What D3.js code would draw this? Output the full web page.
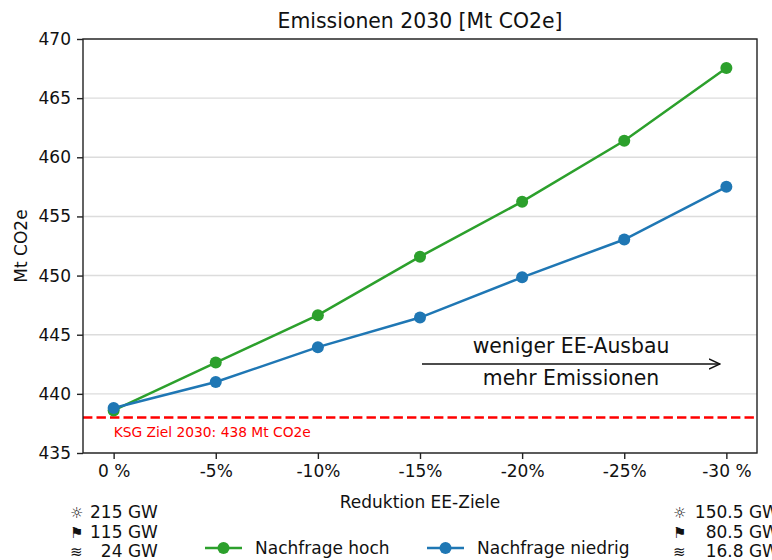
<!DOCTYPE html>
<meta charset="utf-8">
<body style="margin:0;background:#fff">
<svg width="772" height="560"></svg>
<script src="https://d3js.org/d3.v7.min.js"></script>
<style>
  svg { font-family: "DejaVu Sans", sans-serif; }
</style>
<script>

// data
var categories = ["0 %", "-5%", "-10%", "-15%", "-20%", "-25%", "-30 %"]
var nachfrageHoch = [438.6, 442.65, 446.65, 451.6, 456.25, 461.4, 467.55]
var nachfrageNiedrig = [438.8, 441.0, 443.95, 446.45, 449.85, 453.05, 457.5]
var yTicks = [435, 440, 445, 450, 455, 460, 465, 470]
var zielWert = 438
var zielLabel = "KSG Ziel 2030: 438 Mt CO2e"
var seriesNames = ["Nachfrage hoch", "Nachfrage niedrig"]
var seriesColors = ["#2ca02c", "#1f77b4"]
var leftInfo = [["\u263C", "215"], ["\u2691", "115"], ["\u224B", "24"]]
var rightInfo = [["\u263C", "150.5"], ["\u2691", "80.5"], ["\u224B", "16.8"]]

var width = 772
var height = 560
var margin = { top: 39, right: 15, bottom: 107, left: 83 }

var svg = d3.select('svg')

var x = d3.scalePoint()
  .domain(categories)
  .range([margin.left, width - margin.right])
  .padding(0.3)

var y = d3.scaleLinear()
  .domain([435, 470])
  .range([height - margin.bottom, margin.top])

// grid
svg.append('g')
  .selectAll('line')
  .data(yTicks)
  .enter().append('line')
  .attr('x1', margin.left)
  .attr('x2', width - margin.right)
  .attr('y1', function (d) { return y(d) })
  .attr('y2', function (d) { return y(d) })
  .attr('stroke', '#dcdcdc')
  .attr('stroke-width', 1.4)

// axes
var xAxis = svg.append('g')
  .attr('transform', 'translate(0,' + (height - margin.bottom) + ')')
  .call(d3.axisBottom(x).tickSize(6).tickPadding(6))
var yAxis = svg.append('g')
  .attr('transform', 'translate(' + margin.left + ',0)')
  .call(d3.axisLeft(y).tickValues(yTicks).tickSize(6).tickPadding(6))

;[xAxis, yAxis].forEach(function (ax) {
  ax.select('.domain').remove()
  ax.selectAll('line').attr('stroke', '#222').attr('stroke-width', 1.4)
  ax.selectAll('text').attr('font-size', 17).attr('fill', '#111')
    .attr('font-family', '"DejaVu Sans", sans-serif')
})
xAxis.selectAll('text').attr('dy', '0.71em')

// target line
svg.append('line')
  .attr('x1', margin.left)
  .attr('x2', width - margin.right)
  .attr('y1', y(zielWert))
  .attr('y2', y(zielWert))
  .attr('stroke', 'red')
  .attr('stroke-width', 2.5)
  .attr('stroke-dasharray', '9.4,4.1')

svg.append('text')
  .attr('x', x(categories[0]))
  .attr('y', y(zielWert) + 19)
  .attr('font-size', 13.8)
  .attr('fill', 'red')
  .text(zielLabel)

// series
var line = d3.line()
  .x(function (d, i) { return x(categories[i]) })
  .y(function (d) { return y(d) })

;[nachfrageHoch, nachfrageNiedrig].forEach(function (values, s) {
  var g = svg.append('g')
  g.append('path')
    .datum(values)
    .attr('d', line)
    .attr('fill', 'none')
    .attr('stroke', seriesColors[s])
    .attr('stroke-width', 2.5)
  g.selectAll('circle')
    .data(values)
    .enter().append('circle')
    .attr('cx', function (d, i) { return x(categories[i]) })
    .attr('cy', function (d) { return y(d) })
    .attr('r', 6)
    .attr('fill', seriesColors[s])
})

// frame
svg.append('rect')
  .attr('x', margin.left)
  .attr('y', margin.top)
  .attr('width', width - margin.left - margin.right)
  .attr('height', height - margin.top - margin.bottom)
  .attr('fill', 'none')
  .attr('stroke', '#222')
  .attr('stroke-width', 1.4)

// arrow annotation
svg.append('defs').append('marker')
  .attr('id', 'head')
  .attr('viewBox', '0 0 12 12')
  .attr('refX', 11).attr('refY', 6)
  .attr('markerWidth', 12).attr('markerHeight', 12)
  .attr('markerUnits', 'userSpaceOnUse')
  .attr('orient', 'auto')
  .append('path')
  .attr('d', 'M0,1 L11,6 L0,11')
  .attr('fill', 'none')
  .attr('stroke', '#111')
  .attr('stroke-width', 1.5)

var arrowY = 364
svg.append('line')
  .attr('x1', 422).attr('x2', 720)
  .attr('y1', arrowY).attr('y2', arrowY)
  .attr('stroke', '#111')
  .attr('stroke-width', 1.5)
  .attr('marker-end', 'url(#head)')
svg.append('text')
  .attr('x', 571).attr('y', arrowY - 11)
  .attr('text-anchor', 'middle').attr('font-size', 20.4).attr('fill', '#111')
  .text('weniger EE-Ausbau')
svg.append('text')
  .attr('x', 571).attr('y', arrowY + 21)
  .attr('text-anchor', 'middle').attr('font-size', 20.4).attr('fill', '#111')
  .text('mehr Emissionen')

// titles
svg.append('text')
  .attr('x', (margin.left + width - margin.right) / 2)
  .attr('y', 28)
  .attr('text-anchor', 'middle')
  .attr('font-size', 20.4)
  .attr('fill', '#111')
  .text('Emissionen 2030 [Mt CO2e]')

svg.append('text')
  .attr('x', (margin.left + width - margin.right) / 2)
  .attr('y', 508)
  .attr('text-anchor', 'middle')
  .attr('font-size', 17)
  .attr('fill', '#111')
  .text('Reduktion EE-Ziele')

svg.append('text')
  .attr('transform', 'translate(27,' + (margin.top + height - margin.bottom) / 2 + ') rotate(-90)')
  .attr('text-anchor', 'middle')
  .attr('font-size', 17)
  .attr('fill', '#111')
  .text('Mt CO2e')

// capacity notes under the first and last category
function info(rows, symX, numEnd) {
  rows.forEach(function (r, i) {
    var yy = 518 + i * 19.5
    svg.append('text').attr('x', symX).attr('y', yy)
      .attr('font-size', 15).attr('fill', '#111').text(r[0])
    svg.append('text').attr('x', numEnd).attr('y', yy)
      .attr('text-anchor', 'end').attr('font-size', 17).attr('fill', '#111').text(r[1])
    svg.append('text').attr('x', numEnd + 5.4).attr('y', yy)
      .attr('font-size', 17).attr('fill', '#111').text('GW')
  })
}
info(leftInfo, 70, 122.5)
info(rightInfo, 673, 743.5)

// legend
var legend = svg.append('g')
var legendX = [205, 427]
seriesNames.forEach(function (name, s) {
  var lx = legendX[s], ly = 548
  legend.append('line')
    .attr('x1', lx).attr('x2', lx + 37)
    .attr('y1', ly).attr('y2', ly)
    .attr('stroke', seriesColors[s]).attr('stroke-width', 2.5)
  legend.append('circle')
    .attr('cx', lx + 18.5).attr('cy', ly).attr('r', 6)
    .attr('fill', seriesColors[s])
  legend.append('text')
    .attr('x', lx + 50).attr('y', ly + 6)
    .attr('font-size', 17).attr('fill', '#111')
    .text(name)
})

</script>
